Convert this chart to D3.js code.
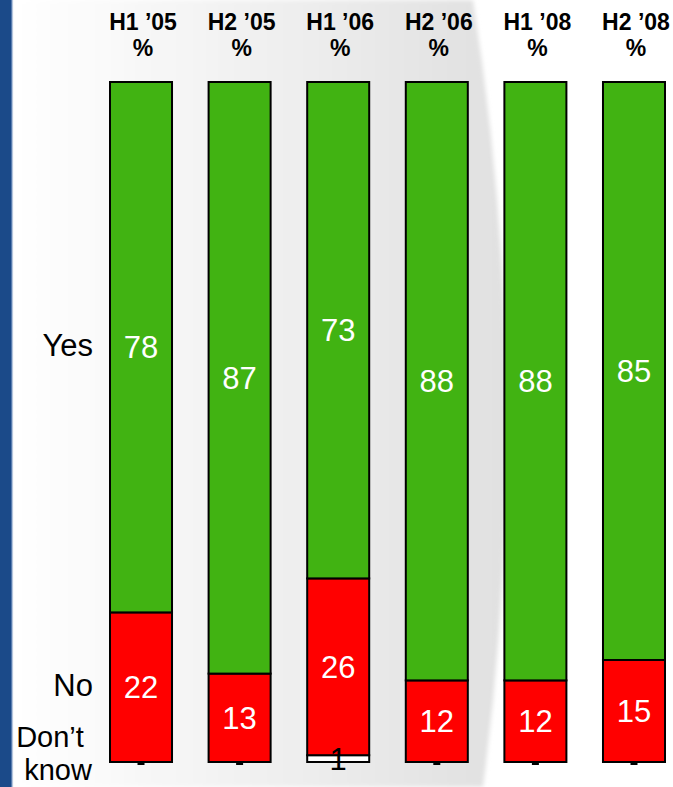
<!DOCTYPE html>
<html>
<head>
<meta charset="utf-8">
<script src="https://cdn.jsdelivr.net/npm/d3@7"></script>
<style>
  html, body { margin: 0; padding: 0; background: #ffffff; }
  svg { display: block; }
</style>
</head>
<body>
<div id="chart"></div>
<script>
// ---- data ----
const periods = ["H1 \u201905", "H2 \u201905", "H1 \u201906", "H2 \u201906", "H1 \u201908", "H2 \u201908"];
const yesValues = [78, 87, 73, 88, 88, 85];
const noValues = [22, 13, 26, 12, 12, 15];
const dontKnowValues = [0, 0, 1, 0, 0, 0];
const seriesNames = ["Yes", "No", "Don\u2019t know"];
const seriesColors = ["#41b312", "#ff0000", "#ffffff"];
const labelColors = ["#ffffff", "#ffffff", "#000000"];

const W = 673, H = 787;
const svg = d3.select("#chart").append("svg").attr("width", W).attr("height", H);

// ---- background ----
const defs = svg.append("defs");
const bg = defs.append("linearGradient").attr("id", "bgGrad")
  .attr("gradientUnits", "userSpaceOnUse").attr("x1", 10).attr("x2", 500).attr("y1", 0).attr("y2", 0);
bg.append("stop").attr("offset", "0").attr("stop-color", "#ffffff");
bg.append("stop").attr("offset", "0.15").attr("stop-color", "#fbfbfb");
bg.append("stop").attr("offset", "0.55").attr("stop-color", "#efefef");
bg.append("stop").attr("offset", "0.9").attr("stop-color", "#e3e3e3");
bg.append("stop").attr("offset", "1").attr("stop-color", "#e1e1e1");
defs.append("filter").attr("id", "soft").append("feGaussianBlur").attr("stdDeviation", 2);

svg.append("rect").attr("width", W).attr("height", H).attr("fill", "#ffffff");
svg.append("path")
  .attr("d", "M 9,0 L 473,0 Q 535,393 483,787 L 9,787 Z")
  .attr("fill", "url(#bgGrad)").attr("filter", "url(#soft)");
const edge = defs.append("linearGradient").attr("id", "edgeGrad");
edge.append("stop").attr("offset", "0").attr("stop-color", "#1b4a89");
edge.append("stop").attr("offset", "0.75").attr("stop-color", "#1b4a89");
edge.append("stop").attr("offset", "0.85").attr("stop-color", "#6f8fbd");
edge.append("stop").attr("offset", "1").attr("stop-color", "#ffffff").attr("stop-opacity", 0);
svg.append("rect").attr("x", 0).attr("y", 0).attr("width", 14).attr("height", H).attr("fill", "url(#edgeGrad)");

// ---- scales ----
const x = d3.scaleBand().domain(periods).range([110, 665]).paddingInner(0.371).paddingOuter(0);
const y = d3.scaleLinear().domain([0, 100]).range([762, 82]);

const rows = periods.map((p, i) => ({ period: p, yes: yesValues[i], no: noValues[i], dk: dontKnowValues[i] }));
// stack from bottom: dk at the bottom, then no, then yes on top
const stack = d3.stack().keys(["dk", "no", "yes"]);
const layers = stack(rows);
const colorOf = { yes: seriesColors[0], no: seriesColors[1], dk: seriesColors[2] };
const labelColorOf = { yes: labelColors[0], no: labelColors[1], dk: labelColors[2] };

const font = "'Liberation Sans', Arial, sans-serif";

// ---- bars ----
layers.forEach(layer => {
  const key = layer.key;
  svg.append("g").selectAll("rect")
    .data(layer.filter(d => d[1] - d[0] > 0))
    .join("rect")
    .attr("x", d => x(d.data.period))
    .attr("y", d => y(d[1]))
    .attr("width", x.bandwidth())
    .attr("height", d => y(d[0]) - y(d[1]))
    .attr("fill", colorOf[key])
    .attr("stroke", "#000")
    .attr("stroke-width", 2);
});

// ---- value labels ----
layers.forEach(layer => {
  const key = layer.key;
  svg.append("g").selectAll("text")
    .data(layer.filter(d => d[1] - d[0] > 0))
    .join("text")
    .attr("x", d => x(d.data.period) + x.bandwidth() / 2)
    .attr("y", d => (y(d[0]) + y(d[1])) / 2 + 11)
    .attr("text-anchor", "middle")
    .attr("font-family", font)
    .attr("font-size", 31)
    .attr("fill", labelColorOf[key])
    .text(d => d[1] - d[0]);
});

// ---- zero "don't know" markers ----
svg.append("g").selectAll("rect")
  .data(rows.filter(d => d.dk === 0))
  .join("rect")
  .attr("x", d => x(d.period) + x.bandwidth() / 2 - 3.5)
  .attr("y", y(0))
  .attr("width", 7)
  .attr("height", 3)
  .attr("fill", "#000");

// ---- column headers ----
const head = svg.append("g").attr("font-family", font).attr("font-weight", "bold")
  .attr("font-size", 23).attr("text-anchor", "middle").attr("fill", "#000");
periods.forEach(p => {
  const cx = x(p) + x.bandwidth() / 2 + 2;
  head.append("text").attr("x", cx).attr("y", 30).text(p);
  head.append("text").attr("x", cx).attr("y", 56).text("%");
});

// ---- row labels (aligned to first bar's segments) ----
const first = rows[0];
const lab = svg.append("g").attr("font-family", font).attr("font-size", 31).attr("fill", "#000");
const yesMid = (y(first.dk + first.no) + y(100)) / 2;
const noMid = (y(first.dk) + y(first.dk + first.no)) / 2;
lab.append("text").attr("x", 93).attr("y", yesMid + 9).attr("text-anchor", "end").text(seriesNames[0]);
lab.append("text").attr("x", 93).attr("y", noMid + 9).attr("text-anchor", "end").text(seriesNames[1]);
lab.append("text").attr("x", 50).attr("y", y(0) - 15).attr("text-anchor", "middle").attr("font-size", 29).text("Don\u2019t");
lab.append("text").attr("x", 58).attr("y", y(0) + 18).attr("text-anchor", "middle").attr("font-size", 29).text("know");
</script>
</body>
</html>
